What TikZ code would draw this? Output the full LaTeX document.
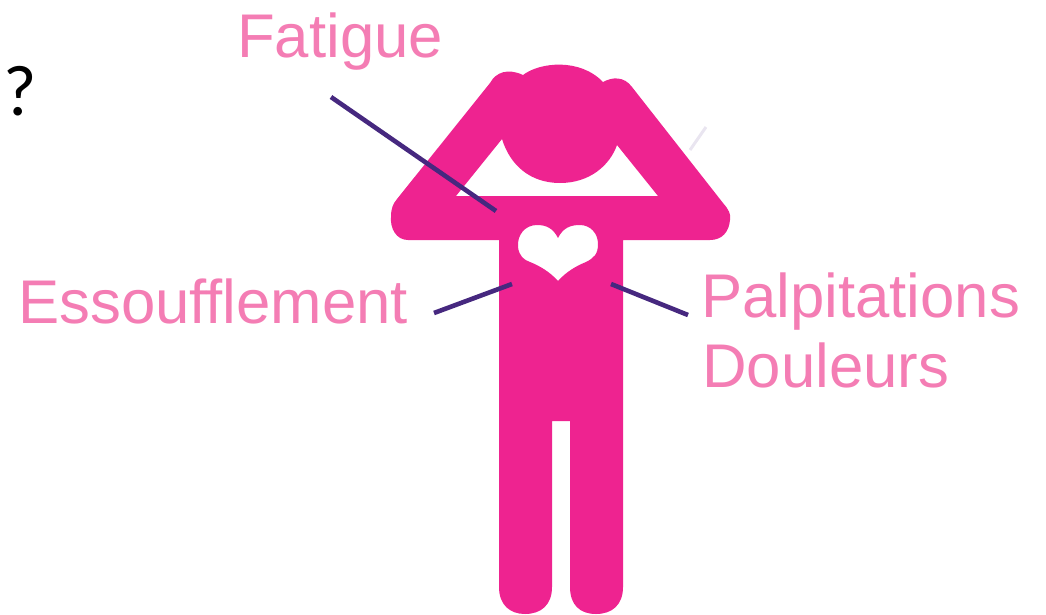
\documentclass[tikz,border=0pt]{standalone}
\usepackage{fontspec}
\setmainfont{Liberation Sans}
\newfontfamily\markfont{Carlito}
\usepackage{tikz}
\usetikzlibrary{positioning}
\definecolor{bodypink}{HTML}{EE2390}
\definecolor{labelpink}{HTML}{F47DB4}
\definecolor{linepurple}{HTML}{46287F}

\begin{document}
\begin{tikzpicture}[x=1pt, y=-1pt,
    symptom/.style={text=labelpink, font=\fontsize{61.7}{68}\selectfont, inner sep=0pt, anchor=base west},
    pointer/.style={draw=linepurple, line width=4.6pt}]
    \useasboundingbox (0,0) rectangle (1046,614);
    % silhouette
    \fill[bodypink, even odd rule] (499,240) -- (408,240)
        .. controls (396,240) and (390,228) .. (391,217)
        .. controls (391,208) and (393,204) .. (397,199)
        -- (490,83)
        .. controls (496,72) and (508,68) .. (523,75)
        .. controls (540,62) and (580,58) .. (603,82)
        .. controls (612,77) and (624,76) .. (632,87)
        -- (723,203)
        .. controls (729,210) and (731,214) .. (730,220)
        .. controls (729,232) and (722,240) .. (710,240)
        -- (623,240) -- (623,587)
        .. controls (623,605) and (612,614) .. (596,614)
        .. controls (580,614) and (570,605) .. (570,587)
        -- (570,421) -- (552,421) -- (552,587)
        .. controls (552,605) and (541,614) .. (525,614)
        .. controls (510,614) and (499,605) .. (499,587)
        -- cycle
        % gap under the arms
        (456,196) -- (502,139)
        .. controls (510,165) and (530,183) .. (560,183)
        .. controls (590,183) and (610,165) .. (617,145)
        -- (658,196) -- cycle
        % heart
        (558,238) .. controls (553,228) and (546,225) .. (537,225)
        .. controls (525,225) and (517,235) .. (518,247)
        .. controls (519,256) and (524,260) .. (530,262)
        .. controls (540,266) and (550,272) .. (558,281)
        .. controls (566,272) and (576,266) .. (586,262)
        .. controls (594,258) and (598,254) .. (598,244)
        .. controls (598,233) and (590,225) .. (580,225)
        .. controls (570,225) and (563,228) .. (558,238) -- cycle;
    \draw[linepurple!12, line width=3pt] (690,150) -- (706,127);
    % labels
    \node[symptom] (fatigue) at (237,57) {Fatigue};
    \node[symptom] (essoufflement) at (18,323) {Essoufflement};
    \node[symptom] (palpitations) at (701,317) {Palpitations};
    \node[symptom] (douleurs) at (702,387) {Douleurs};
    \node[font=\markfont\fontsize{72}{76}\selectfont, inner sep=0pt, anchor=base west] (mark) at (3,115) {?};
    % pointers
    \coordinate (fatigueA) at (331,97);
    \coordinate (fatigueB) at (496,211);
    \coordinate (essouffA) at (434,313);
    \coordinate (essouffB) at (512,284);
    \coordinate (palpitA) at (688,315);
    \coordinate (palpitB) at (611,284);
    \draw[pointer] (fatigueA) -- (fatigueB);
    \draw[pointer] (essouffA) -- (essouffB);
    \draw[pointer] (palpitA) -- (palpitB);
\end{tikzpicture}
\end{document}
